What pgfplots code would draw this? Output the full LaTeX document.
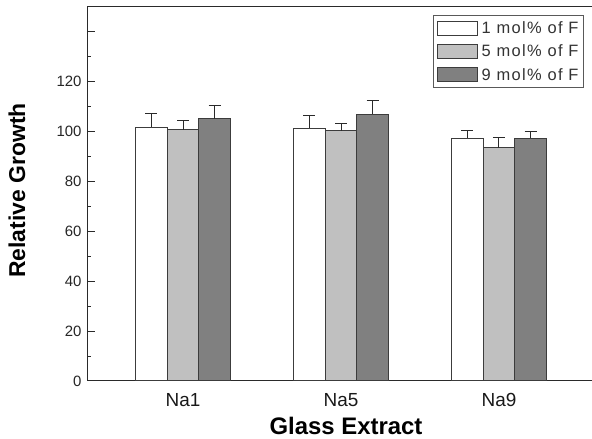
\documentclass[border=0pt]{standalone}
\usepackage{fontspec}
\setmainfont{Liberation Sans}
\newfontfamily\legfont[LetterSpace=8]{Liberation Sans}
\usepackage{pgfplots}
\pgfplotsset{compat=1.18}
\definecolor{lg}{HTML}{C0C0C0}
\definecolor{dg}{HTML}{808080}
\definecolor{edge}{HTML}{3C3C3C}
\definecolor{axc}{HTML}{2A2A2A}
\pgfplotsset{
  mybar/.style={ybar, bar width=0.2, bar shift=0pt, line width=1bp, draw=edge,
    legend image code/.code={\draw[##1, line width=1bp] (0bp,-7bp) rectangle (40bp,7bp);},
    error bars/y dir=plus, error bars/y explicit, error bars/error mark=-,
    error bars/error mark options={rotate=90, mark size=6bp, line width=1bp, draw=axc},
    error bars/error bar style={line width=1bp, draw=axc}},
}
\begin{document}
\begin{tikzpicture}[x=1bp,y=1bp]
\useasboundingbox (0,0) rectangle (592,439);
\begin{axis}[
  at={(87bp,58bp)}, anchor=south west,
  scale only axis, width=505bp, height=374bp,
  xmin=0.392, xmax=3.589, ymin=0, ymax=150,
  axis x line=box, axis y line=left,
  axis line style={-, draw=axc, line width=1bp},
  tick align=inside,
  xtick={1,2,3}, xticklabels={Na1,Na5,Na9},
  xtick style={draw=none},
  ytick={0,20,...,140}, yticklabels={0,20,40,60,80,100,120,},
  minor y tick num=1,
  major tick length=8bp, minor tick length=4bp,
  y tick style={draw=axc, line width=1bp},
  /pgf/number format/assume math mode=true,
  x tick label style={font=\fontsize{19}{22}\selectfont, text=black!90, yshift=-9bp},
  y tick label style={font=\fontsize{15}{18}\selectfont, text=black!85, xshift=-2bp},
  legend style={at={(1,1)}, anchor=north east, xshift=-8bp, yshift=-8bp,
    draw=black!65, line width=1bp, font=\legfont\fontsize{16.5}{19}\selectfont,
    row sep=6bp, inner xsep=3bp, inner ysep=4bp, text=black!80,
    /tikz/every odd column/.append style={column sep=2bp}},
  legend cell align=left,
]
\addplot[mybar, fill=white] coordinates {
  (0.8,101.7) +- (0,5.6)
  (1.8,101.3) +- (0,5.2)
  (2.8,97.3) +- (0,3.0)
};
\addlegendentry{1 mol\% of F}
\addplot[mybar, fill=lg] coordinates {
  (1.0,100.8) +- (0,3.5)
  (2.0,100.4) +- (0,2.9)
  (3.0,93.5) +- (0,4.2)
};
\addlegendentry{5 mol\% of F}
\addplot[mybar, fill=dg] coordinates {
  (1.2,105.1) +- (0,5.3)
  (2.2,106.9) +- (0,5.6)
  (3.2,97.3) +- (0,2.6)
};
\addlegendentry{9 mol\% of F}
\end{axis}
\node[rotate=90, anchor=base, font=\bfseries\fontsize{23}{27}\selectfont] at (25,248.5) {Relative Growth};
\node[anchor=base, font=\bfseries\fontsize{24}{28}\selectfont] at (346,4.5) {Glass Extract};
\end{tikzpicture}
\end{document}
